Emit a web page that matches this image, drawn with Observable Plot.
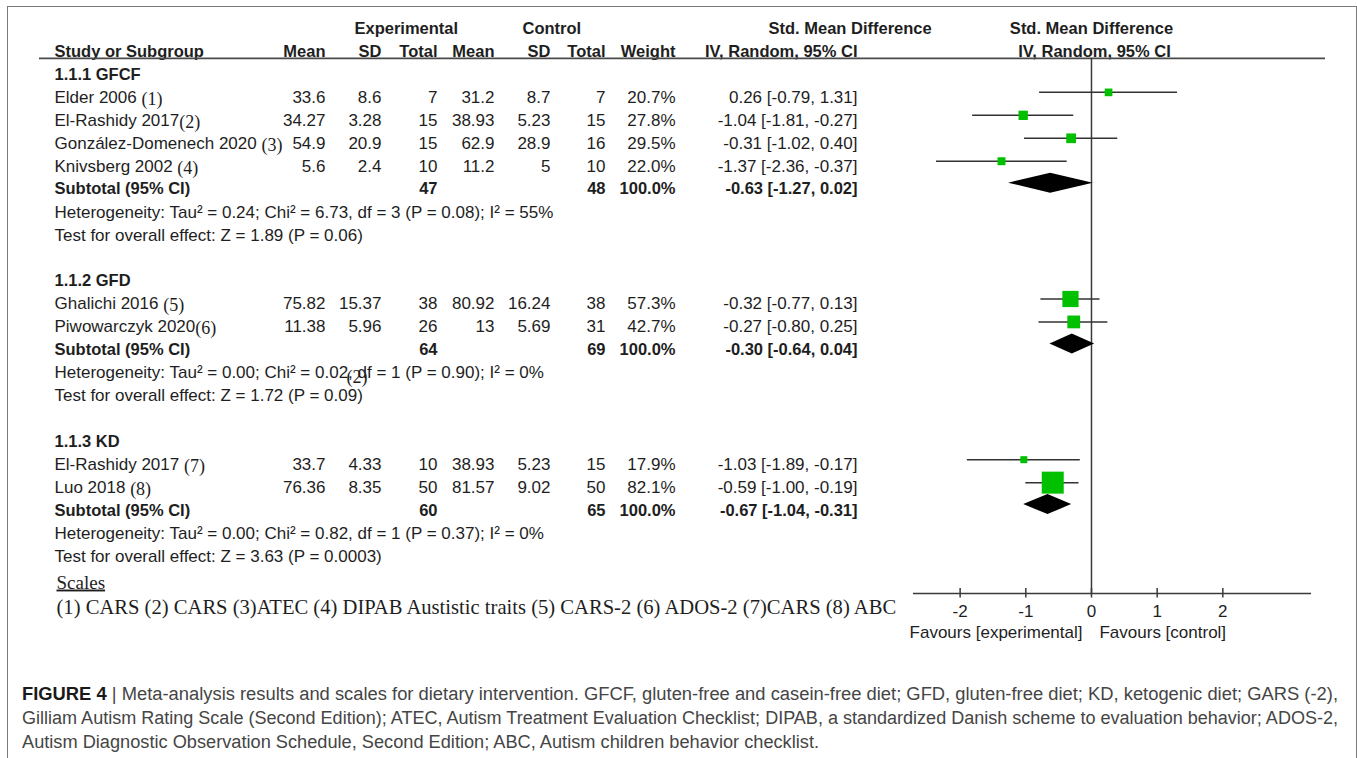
<!DOCTYPE html>
<html><head><meta charset="utf-8">
<script src="https://cdn.jsdelivr.net/npm/d3@7"></script>
<script src="https://cdn.jsdelivr.net/npm/@observablehq/plot@0.6"></script>
<style>
html,body{margin:0;padding:0;background:#fff;}
body{width:1357px;height:758px;overflow:hidden;position:relative;}
#box{position:absolute;left:7px;top:6px;width:1350px;height:830px;box-sizing:border-box;border:1.5px solid #7a7a7a;}
#chart{position:absolute;left:0;top:0;}
#caption{position:absolute;left:22px;top:682px;font-family:"Liberation Sans",Arial,sans-serif;font-size:18px;line-height:24px;color:#454545;white-space:nowrap;}
#caption .ln{display:block;width:max-content;transform-origin:0 0;}
#caption b{color:#1a1a1a;}
</style></head><body>
<div id="box"></div>
<div id="chart"></div>
<div id="caption">
<span class="ln"><b>FIGURE 4</b> | Meta-analysis results and scales for dietary intervention. GFCF, gluten-free and casein-free diet; GFD, gluten-free diet; KD, ketogenic diet; GARS (-2),</span>
<span class="ln">Gilliam Autism Rating Scale (Second Edition); ATEC, Autism Treatment Evaluation Checklist; DIPAB, a standardized Danish scheme to evaluation behavior; ADOS-2,</span>
<span class="ln">Autism Diagnostic Observation Schedule, Second Edition; ABC, Autism children behavior checklist.</span>
</div>
<script>
// ---------------- data ----------------
const subgroupNames = ["1.1.1 GFCF", "1.1.2 GFD", "1.1.3 KD"];
const studyNames = ["Elder 2006", "El-Rashidy 2017", "González-Domenech 2020", "Knivsberg 2002", "Ghalichi 2016", "Piwowarczyk 2020", "El-Rashidy 2017", "Luo 2018"];
const scaleNotes = ["(1)", "(2)", "(3)", "(4)", "(5)", "(6)", "(7)", "(8)"];
const noteSpaced = [true, false, true, true, true, false, true, true];
const studySubgroup = [0, 0, 0, 0, 1, 1, 2, 2];
const expMean = [33.6, 34.27, 54.9, 5.6, 75.82, 11.38, 33.7, 76.36];
const expSD = [8.6, 3.28, 20.9, 2.4, 15.37, 5.96, 4.33, 8.35];
const expTotal = [7, 15, 15, 10, 38, 26, 10, 50];
const ctlMean = [31.2, 38.93, 62.9, 11.2, 80.92, 13, 38.93, 81.57];
const ctlSD = [8.7, 5.23, 28.9, 5, 16.24, 5.69, 5.23, 9.02];
const ctlTotal = [7, 15, 16, 10, 38, 31, 15, 50];
const weight = [20.7, 27.8, 29.5, 22.0, 57.3, 42.7, 17.9, 82.1];
const smd = [0.26, -1.04, -0.31, -1.37, -0.32, -0.27, -1.03, -0.59];
const ciLow = [-0.79, -1.81, -1.02, -2.36, -0.77, -0.80, -1.89, -1.00];
const ciHigh = [1.31, -0.27, 0.40, -0.37, 0.13, 0.25, -0.17, -0.19];
const subSmd = [-0.63, -0.30, -0.67];
const subLow = [-1.27, -0.64, -1.04];
const subHigh = [0.02, 0.04, -0.31];
const heterogeneity = [
  "Heterogeneity: Tau² = 0.24; Chi² = 6.73, df = 3 (P = 0.08); I² = 55%",
  "Heterogeneity: Tau² = 0.00; Chi² = 0.02, df = 1 (P = 0.90); I² = 0%",
  "Heterogeneity: Tau² = 0.00; Chi² = 0.82, df = 1 (P = 0.37); I² = 0%"
];
const overallEffect = [
  "Test for overall effect: Z = 1.89 (P = 0.06)",
  "Test for overall effect: Z = 1.72 (P = 0.09)",
  "Test for overall effect: Z = 3.63 (P = 0.0003)"
];
const strayNote = "(2)";
const strayAfter = "Heterogeneity: Tau² = 0.00; Chi² = 0.02";
const axisTicks = [-2, -1, 0, 1, 2];
const axisExtent = [-2.71, 3.35];
const favourLabels = ["Favours [experimental]", "Favours [control]"];
const headerTop = {exp: "Experimental", ctl: "Control", smd: "Std. Mean Difference"};
const headerCols = {study: "Study or Subgroup", eMean: "Mean", eSD: "SD", eN: "Total", cMean: "Mean", cSD: "SD", cN: "Total", w: "Weight", ci: "IV, Random, 95% CI"};
const subtotalLabel = "Subtotal (95% CI)";
const scalesTitle = "Scales";
const scalesList = "(1) CARS (2) CARS (3)ATEC (4) DIPAB Austistic traits (5) CARS-2 (6) ADOS-2 (7)CARS (8) ABC";

// ---------------- layout ----------------
const SANS = "'Liberation Sans', Arial, Helvetica, sans-serif";
const SERIF = "'Liberation Serif', 'Times New Roman', serif";
const FS = 17, FSB = 16.5;
const L = {
  width: 1357, height: 640, marginBottom: 47,
  xRange: [913, 1311], yDomain: [-2, 21], yRange: [28, 556],
  studyX: 54,
  cols: {eMean: 325, eSD: 381, eN: 437, cMean: 494, cSD: 550, cN: 605, w: 675, ci: 857},
  expHdr: 354, ctlHdr: 522, smdHdr: 768,
  headerRow: -0.7, axisRow: 22.61, scalesRow: 22.13, scalesListRow: 23.22, favourRow: 24.31,
  headerInset: [39, 32], scalesX: 56,
  markDy: -5, diamondDy: -6.5, diamondHalf: 0.436,
  captionWidths: [1316, 1316, 797]
};
const fmt2 = v => v.toFixed(2);
const fmtCI = (m, l, h) => `${fmt2(m)} [${fmt2(l)}, ${fmt2(h)}]`;

// ---------------- rows ----------------
const studyRows = [], subRows = [], titleRows = [], hetRows = [], testRows = [];
let r = 0;
subgroupNames.forEach((name, g) => {
  titleRows.push({row: r, text: name});
  const idx = studyNames.map((s, i) => i).filter(i => studySubgroup[i] === g);
  idx.forEach((i, k) => studyRows.push({
    row: r + 1 + k, name: studyNames[i], note: scaleNotes[i], spaced: noteSpaced[i],
    eMean: String(expMean[i]), eSD: String(expSD[i]), eN: String(expTotal[i]),
    cMean: String(ctlMean[i]), cSD: String(ctlSD[i]), cN: String(ctlTotal[i]),
    w: weight[i].toFixed(1) + "%", ci: fmtCI(smd[i], ciLow[i], ciHigh[i]),
    smd: smd[i], lo: ciLow[i], hi: ciHigh[i], weight: weight[i]
  }));
  const rs = r + idx.length + 1;
  subRows.push({
    row: rs, g, label: subtotalLabel,
    eN: String(d3.sum(idx, i => expTotal[i])), cN: String(d3.sum(idx, i => ctlTotal[i])),
    w: d3.sum(idx, i => weight[i]).toFixed(1) + "%",
    ci: fmtCI(subSmd[g], subLow[g], subHigh[g]),
    smd: subSmd[g], lo: subLow[g], hi: subHigh[g]
  });
  hetRows.push({row: rs + 1, text: heterogeneity[g]});
  testRows.push({row: rs + 2, text: overallEffect[g]});
  r = rs + 4;
});
const diamondPts = subRows.flatMap(s => [
  {g: s.g, x: s.lo, y: s.row}, {g: s.g, x: s.smd, y: s.row - L.diamondHalf},
  {g: s.g, x: s.hi, y: s.row}, {g: s.g, x: s.smd, y: s.row + L.diamondHalf}
]);

// text measuring for footnote markers
const ctx = document.createElement("canvas").getContext("2d");
ctx.font = FS + "px " + SANS;
const measure = s => ctx.measureText(s).width;

// ---------------- marks ----------------
const numKeys = ["eMean", "eSD", "eN", "cMean", "cSD", "cN", "w", "ci"];
const subKeys = ["eN", "cN", "w", "ci"];
const txt = (data, text, x, o = {}) => Plot.text(data, {frameAnchor: "left", dx: x, y: "row", text, textAnchor: "end", fontSize: FS, ...o});
const hdr = (label, row, o) => Plot.text([label], {y: () => row, text: d => d, fontWeight: "bold", fontSize: FSB, ...o});

const marks = [
  // headers
  hdr(headerTop.exp, -2, {frameAnchor: "left", dx: L.expHdr}),
  hdr(headerTop.ctl, -2, {frameAnchor: "left", dx: L.ctlHdr}),
  hdr(headerTop.smd, -2, {frameAnchor: "left", dx: L.smdHdr}),
  hdr(headerTop.smd, -2, {x: () => 0}),
  hdr(headerCols.study, -1, {frameAnchor: "left", dx: L.studyX, textAnchor: "start"}),
  ...numKeys.map(k => hdr(headerCols[k], -1, {frameAnchor: "left", dx: L.cols[k], textAnchor: "end"})),
  hdr(headerCols.ci, -1, {x: () => 0, dx: 3}),
  Plot.ruleY([L.headerRow], {y: d => d, insetLeft: L.headerInset[0], insetRight: L.headerInset[1], stroke: "#4a4a4a", strokeWidth: 1.6}),
  // subgroup titles
  txt(titleRows, "text", L.studyX, {textAnchor: "start", fontWeight: "bold", fontSize: FSB}),
  // studies
  txt(studyRows, "name", L.studyX, {textAnchor: "start"}),
  ...studyRows.map(d => Plot.text([d], {frameAnchor: "left", dx: L.studyX + measure(d.name + (d.spaced ? " " : "")), y: "row", text: "note", textAnchor: "start", fontFamily: SERIF, fontSize: 18, dy: 1.5})),
  ...numKeys.map(k => txt(studyRows, k, L.cols[k])),
  // subtotals
  txt(subRows, "label", L.studyX, {textAnchor: "start", fontWeight: "bold", fontSize: FSB}),
  ...subKeys.map(k => txt(subRows, k, L.cols[k], {fontWeight: "bold", fontSize: FSB})),
  // heterogeneity / overall
  txt(hetRows, "text", L.studyX, {textAnchor: "start"}),
  txt(testRows, "text", L.studyX, {textAnchor: "start"}),
  Plot.text([strayNote], {frameAnchor: "left", dx: L.studyX + measure(strayAfter) - 2, y: () => hetRows[1].row, text: d => d, textAnchor: "start", fontFamily: SERIF, fontSize: 18, dy: 4}),
  // scales
  Plot.text([scalesTitle], {frameAnchor: "left", dx: L.scalesX, y: () => L.scalesRow, text: d => d, textAnchor: "start", fontFamily: SERIF, fontSize: 19}),
  Plot.text([scalesList], {frameAnchor: "left", dx: L.scalesX, y: () => L.scalesListRow, text: d => d, textAnchor: "start", fontFamily: SERIF, fontSize: 20.6}),
  // forest
  Plot.ruleX([0], {x: d => d, y1: () => L.headerRow, y2: () => L.axisRow, stroke: "#3a3a3a", strokeWidth: 1.5}),
  Plot.ruleY(studyRows, {y: "row", x1: "lo", x2: "hi", stroke: "#333", strokeWidth: 1.5, dy: L.markDy}),
  Plot.dot(studyRows, {x: "smd", y: "row", r: "weight", symbol: "square", fill: "#00c000", dy: L.markDy}),
  Plot.line(diamondPts, {x: "x", y: "y", z: "g", fill: "black", stroke: "none", curve: "linear-closed", dy: L.diamondDy}),
  // axis
  Plot.ruleY([L.axisRow], {y: d => d, x1: () => axisExtent[0], x2: () => axisExtent[1], stroke: "#3a3a3a", strokeWidth: 1.5}),
  Plot.ruleX(axisTicks, {x: d => d, y1: () => L.axisRow - 0.22, y2: () => L.axisRow + 0.2, stroke: "#3a3a3a", strokeWidth: 1.5}),
  Plot.axisX(axisTicks, {tickSize: 0, tickPadding: 11, tickFormat: d => String(d), fontSize: FS, label: null}),
  Plot.text([favourLabels[0]], {x: () => 0, y: () => L.favourRow, text: d => d, textAnchor: "end", dx: -9, fontSize: FS}),
  Plot.text([favourLabels[1]], {x: () => 0, y: () => L.favourRow, text: d => d, textAnchor: "start", dx: 8, fontSize: FS})
];

const chart = Plot.plot({
  width: L.width, height: L.height,
  marginTop: 0, marginLeft: 0, marginRight: 0, marginBottom: L.marginBottom,
  x: {domain: axisExtent, range: L.xRange, label: null},
  y: {domain: L.yDomain, range: L.yRange, axis: null},
  r: {type: "linear", domain: [0, 100], range: [1.59, 14.77]},
  style: {background: "transparent", fontFamily: SANS, fontSize: FS + "px", color: "#1e1e1e", overflow: "visible"},
  marks
});
document.getElementById("chart").appendChild(chart);
d3.select(chart).selectAll("text").filter(function () { return this.textContent === scalesTitle; })
  .attr("text-decoration", "underline").style("text-decoration", "underline");

// caption fit
document.querySelectorAll("#caption .ln").forEach((l, i) => {
  const s = L.captionWidths[i] / l.getBoundingClientRect().width;
  l.style.transform = `scaleX(${s})`;
});
</script>
</body></html>
